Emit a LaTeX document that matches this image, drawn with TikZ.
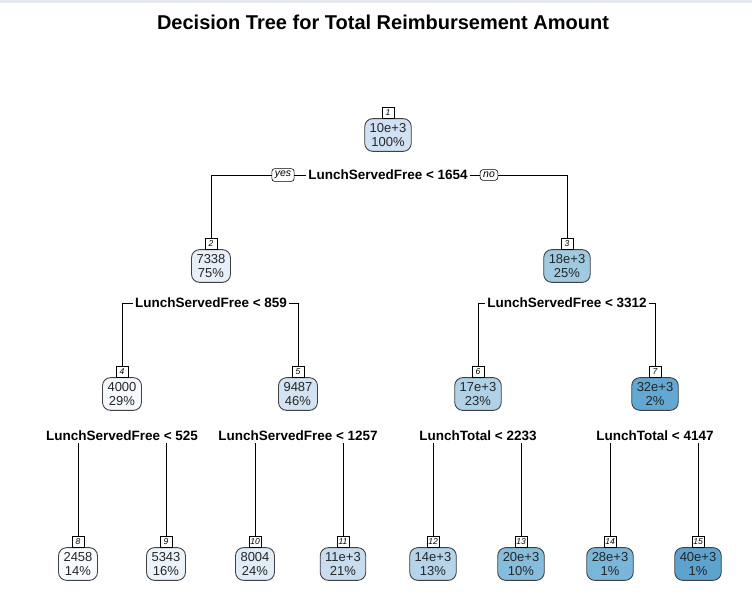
\documentclass[tikz,border=0pt]{standalone}
\usepackage{fontspec}
\setmainfont{Liberation Sans}
\usetikzlibrary{positioning}

\definecolor{topbar}{HTML}{E6EAEE}
\definecolor{c1}{HTML}{CFE1F2}
\definecolor{c2}{HTML}{E7F0F9}
\definecolor{c3}{HTML}{A0CAE1}
\definecolor{c4}{HTML}{F5F9FE}
\definecolor{c5}{HTML}{D2E3F3}
\definecolor{c6}{HTML}{B0D2E8}
\definecolor{c7}{HTML}{62A8D3}
\definecolor{c8}{HTML}{F7FBFF}
\definecolor{c9}{HTML}{EBF3FB}
\definecolor{c10}{HTML}{E0ECF8}
\definecolor{c11}{HTML}{C8DCF0}
\definecolor{c12}{HTML}{B5D4EA}
\definecolor{c13}{HTML}{86BCDC}
\definecolor{c14}{HTML}{7AB6DA}
\definecolor{c15}{HTML}{5CA3D0}

\begin{document}
\begin{tikzpicture}[x=1pt, y=-1pt,
    % ---- styles ----
    box/.style={draw=black!75, fill=#1, rounded corners=8pt, line width=0.9pt,
                align=center, inner xsep=5pt, inner ysep=4.5pt,
                font=\fontsize{13}{14.5}\selectfont, text=black!85},
    num/.style={draw=black, fill=white, line width=0.6pt, inner sep=1.2pt,
                minimum width=12pt, minimum height=11pt,
                font=\fontsize{8.5}{9}\selectfont\itshape},
    split/.style={font=\fontsize{13.5}{15}\selectfont\bfseries, inner sep=2pt},
    yn/.style={draw=black, fill=white, rounded corners=3pt, line width=0.6pt,
               inner xsep=3pt, inner ysep=2.5pt,
               font=\fontsize{10.5}{11}\selectfont\itshape},
    E/.style={line width=0.7pt, black},
]

\useasboundingbox (0,0) rectangle (752,602);
\fill[topbar] (0,0) rectangle (752,3);

% ===== Title =====
\node[font=\fontsize{20}{22}\selectfont\bfseries] (title) at (383,22)
    {Decision Tree for Total Reimbursement Amount};

% ===== Tree nodes =====
\foreach \i/\x/\y/\v/\p in {
    1/388/135/10e+3/100, 2/211/266/7338/75, 3/567/266/18e+3/25,
    4/122/394/4000/29, 5/298/394/9487/46, 6/478/394/17e+3/23, 7/655/394/32e+3/2,
    8/78/564/2458/14, 9/166/564/5343/16, 10/255/564/8004/24, 11/343/564/11e+3/21,
    12/433/564/14e+3/13, 13/521/564/20e+3/10, 14/610/564/28e+3/1, 15/698/564/40e+3/1}
{
    \node[box=c\i] (n\i) at (\x,\y) {\v\\\p\%};
    \node[num, above=0pt of n\i] (l\i) {\i};
}

% ===== Split labels =====
\node[split] (s1) at (388,175) {LunchServedFree < 1654};
\node[split] (s2) at (211,303) {LunchServedFree < 859};
\node[split] (s3) at (567,303) {LunchServedFree < 3312};
\node[split] (s4) at (122,436) {LunchServedFree < 525};
\node[split] (s5) at (298,436) {LunchServedFree < 1257};
\node[split] (s6) at (478,436) {LunchTotal < 2233};
\node[split] (s7) at (655,436) {LunchTotal < 4147};

\node[yn] (yes) at (283,175) {yes};
\node[yn] (no)  at (489,175) {no};

% Root split
\draw[E] (yes.west) -| (l2.north);
\draw[E] (yes.east) -- (s1.west);
\draw[E] (s1.east) -- (no.west);
\draw[E] (no.east) -| (l3.north);

% Second level
\draw[E] (s2.west) -| (l4.north);
\draw[E] (s2.east) -| (l5.north);
\draw[E] (s3.west) -| (l6.north);
\draw[E] (s3.east) -| (l7.north);

% Leaves
\foreach \s/\a/\b in {4/8/9, 5/10/11, 6/12/13, 7/14/15}
{
    \draw[E] (l\a.north |- s\s.south) -- (l\a.north);
    \draw[E] (l\b.north |- s\s.south) -- (l\b.north);
}

\end{tikzpicture}
\end{document}
